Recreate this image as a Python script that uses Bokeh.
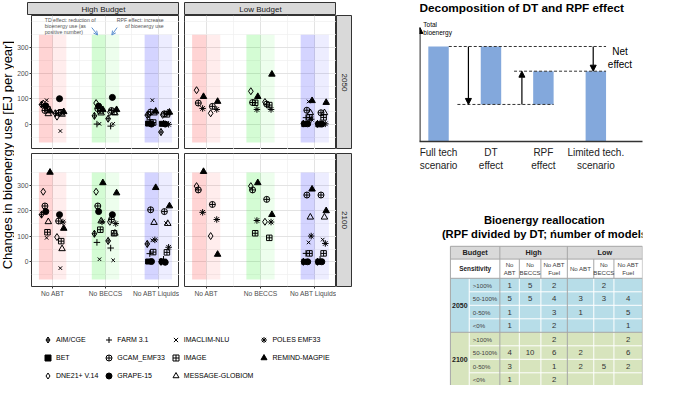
import math
from bokeh.plotting import figure
from bokeh.models import (Range1d, FixedTicker, Label, Arrow, NormalHead, OpenHead,
                          Legend, LegendItem, Spacer)
from bokeh.layouts import row, column
from bokeh.embed import file_html
from bokeh.resources import INLINE
from bokeh.core.properties import value

FONT = "Liberation Sans"

# ---------------- data ----------------
CATEGORIES = ["No ABT", "No BECCS", "No ABT Liquids"]
MODEL_CODES = ["AIM", "BET", "DNE", "FARM", "GCAM", "GRAPE", "IMAC", "IMAGE", "MESS", "POLES", "REMIND"]
MODEL_NAMES = ["AIM/CGE", "BET", "DNE21+ V.14", "FARM 3.1", "GCAM_EMF33", "GRAPE-15",
               "IMACLIM-NLU", "IMAGE", "MESSAGE-GLOBIOM", "POLES EMF33", "REMIND-MAGPIE"]

HIGH_2050_TD = {
    "No ABT": {"DNE": 82, "AIM": 78, "GRAPE": 73, "IMAC": 95, "GCAM": 55, "IMAGE": 60, "MESS": 42, "REMIND": 53},
    "No BECCS": {"DNE": 84, "GRAPE": 72, "GCAM": 62, "IMAGE": 55, "REMIND": 58, "AIM": 34, "MESS": 45, "IMAC": 3, "FARM": 2},
    "No ABT Liquids": {"IMAC": 95, "AIM": 37, "GCAM": 49, "REMIND": 52, "DNE": 40, "MESS": 45, "BET": 4, "GRAPE": 2, "IMAGE": 8, "FARM": 19},
}
HIGH_2050_RPF = {
    "No ABT": {"GRAPE": 101, "DNE": 31, "IMAC": -25, "GCAM": 45, "IMAGE": 48, "MESS": 40, "REMIND": 50, "AIM": 44},
    "No BECCS": {"GRAPE": 106, "GCAM": 55, "IMAGE": 50, "MESS": 45, "REMIND": 58, "DNE": 48, "AIM": 23, "IMAC": 3, "FARM": -6},
    "No ABT Liquids": {"GCAM": 42, "IMAGE": 40, "MESS": 45, "REMIND": 48, "DNE": 38, "BET": 3, "GRAPE": 2, "POLES": 1, "FARM": 5, "AIM": -29},
}
LOW_2050_TD = {
    "No ABT": {"DNE": 134, "REMIND": 109, "GCAM": 84, "POLES": 63},
    "No BECCS": {"DNE": 130, "REMIND": 109, "GCAM": 86, "IMAGE": 85, "POLES": 59},
    "No ABT Liquids": {"IMAC": 90, "REMIND": 93, "GCAM": 56, "MESS": 46, "IMAGE": 28, "POLES": 21, "FARM": 27, "GRAPE": 3, "BET": 2, "AIM": 4},
}
LOW_2050_RPF = {
    "No ABT": {"REMIND": 90, "GCAM": 71, "POLES": 59, "DNE": 44},
    "No BECCS": {"REMIND": 196, "DNE": 88, "GCAM": 80, "IMAGE": 76, "POLES": 59},
    "No ABT Liquids": {"REMIND": 86, "GCAM": 46, "MESS": 46, "IMAGE": 28, "POLES": 3, "GRAPE": 2, "BET": 1, "AIM": 3, "FARM": 6},
}
HIGH_2100_TD = {
    "No ABT": {"REMIND": 351, "DNE": 275, "GCAM": 219, "GRAPE": 197, "AIM": 185, "MESS": 157, "IMAGE": 116, "IMAC": 94},
    "No BECCS": {"REMIND": 310, "DNE": 275, "GCAM": 219, "GRAPE": 197, "MESS": 160, "POLES": 157, "IMAGE": 126, "AIM": 110, "FARM": 76, "IMAC": 10},
    "No ABT Liquids": {"REMIND": 291, "GCAM": 204, "MESS": 154, "POLES": 86, "IMAC": 84, "AIM": 70, "IMAGE": 38, "FARM": 32, "GRAPE": 1, "BET": 1},
}
HIGH_2100_RPF = {
    "No ABT": {"GRAPE": 185, "GCAM": 160, "POLES": 156, "REMIND": 131, "DNE": 97, "IMAGE": 81, "MESS": 51, "IMAC": -25},
    "No BECCS": {"REMIND": 270, "GRAPE": 185, "GCAM": 166, "DNE": 157, "POLES": 150, "IMAGE": 112, "MESS": 112, "AIM": 82, "FARM": 54, "IMAC": 6},
    "No ABT Liquids": {"REMIND": 219, "GCAM": 197, "MESS": 150, "IMAC": 152, "POLES": 57, "IMAGE": 37, "FARM": 10, "BET": 1, "GRAPE": -2, "AIM": 0},
}
LOW_2100_TD = {
    "No ABT": {"REMIND": 354, "DNE": 297, "GCAM": 282, "POLES": 194},
    "No BECCS": {"REMIND": 310, "DNE": 297, "GCAM": 282, "POLES": 162, "IMAGE": 112},
    "No ABT Liquids": {"REMIND": 285, "GCAM": 262, "MESS": 175, "POLES": 101, "IMAC": 76, "IMAGE": 33, "FARM": 33, "GRAPE": 0, "BET": 0, "AIM": 0},
}
LOW_2100_RPF = {
    "No ABT": {"GCAM": 225, "POLES": 166, "DNE": 101, "REMIND": 29},
    "No BECCS": {"GCAM": 245, "REMIND": 185, "DNE": 157, "POLES": 156, "IMAGE": 94},
    "No ABT Liquids": {"GCAM": 262, "REMIND": 200, "MESS": 175, "IMAC": 87, "POLES": 72, "IMAGE": 33, "FARM": 10, "GRAPE": 0, "BET": 0, "AIM": 0},
}
Y_TICKS = [0, 100, 200, 300]
BAND_BOTTOM, BAND_TOP = -70, 350

# decomposition diagram
DECOMP_LABELS = ["Full tech\nscenario", "DT\neffect", "RPF\neffect", "Limited tech.\nscenario"]
FULL_TECH = 100
DT_EFFECT = -61
RPF_EFFECT = 35

# table
TABLE_SENS = [">100%", "50-100%", "0-50%", "<0%"]
TABLE_SUBCOLS = ["No\nABT", "No\nBECCS", "No ABT\nFuel", "No ABT", "No\nBECCS", "No ABT\nFuel"]
TABLE_2050 = [[1, 5, 2, None, 2, None],
              [5, 5, 4, 3, 3, 4],
              [1, None, 3, 1, None, 5],
              [1, None, 2, None, None, 1]]
TABLE_2100 = [[None, None, 2, None, None, 2],
              [4, 10, 6, 2, None, 6],
              [3, None, 1, 2, 5, 2],
              [1, None, 2, None, None, None]]

# ---------------- styles ----------------
MARKER_STYLE = {
    "AIM": dict(marker="diamond_cross", fill_color=None, size=7),
    "BET": dict(marker="square", fill_color="black", size=5),
    "DNE": dict(marker="diamond", fill_color=None, size=7),
    "FARM": dict(marker="cross", fill_color=None, size=6.5),
    "GCAM": dict(marker="circle_cross", fill_color=None, size=6),
    "GRAPE": dict(marker="circle", fill_color="black", size=6),
    "IMAC": dict(marker="x", fill_color=None, size=5),
    "IMAGE": dict(marker="square_cross", fill_color=None, size=5.5),
    "MESS": dict(marker="triangle", fill_color=None, size=6.5),
    "POLES": dict(marker="asterisk", fill_color=None, size=6.5),
    "REMIND": dict(marker="triangle", fill_color="black", size=6.5),
}
BAND_COLORS = ["#ff0000", "#00ee00", "#0000ff"]
TD_SIDE, RPF_SIDE = -0.13, 0.13
GRID_MAJOR = "#e3e3e3"
GRID_MINOR = "#efefef"


def base_fig(width, height, **kw):
    return figure(width=width, height=height, output_backend="svg", toolbar_location=None, **kw)


def make_panel(td, rpf, width, height, left, top, bottom, show_x, show_y, note=False):
    p = base_fig(width, height, x_range=Range1d(0.6, 3.4), y_range=Range1d(-97, 425),
                 x_axis_location="below" if show_x else None,
                 y_axis_location="left" if show_y else None,
                 min_border_left=left, min_border_right=0, min_border_top=top, min_border_bottom=bottom)
    p.outline_line_color = "#333333"
    p.outline_line_width = 1
    p.background_fill_color = "white"
    p.xgrid.ticker = FixedTicker(ticks=[1, 2, 3], minor_ticks=[1.5, 2.5])
    p.ygrid.ticker = FixedTicker(ticks=Y_TICKS, minor_ticks=[-50, 50, 150, 250, 350, 400])
    for g in (p.xgrid, p.ygrid):
        g.grid_line_color = GRID_MAJOR
        g.grid_line_width = 1
        g.minor_grid_line_color = GRID_MINOR
        g.minor_grid_line_width = 0.7
    if show_x:
        ax = p.xaxis[0]
        ax.ticker = FixedTicker(ticks=[1, 2, 3])
        ax.major_label_overrides = {i + 1: c for i, c in enumerate(CATEGORIES)}
    if show_y:
        ax = p.yaxis[0]
        ax.ticker = FixedTicker(ticks=Y_TICKS)
    for ax in p.xaxis + p.yaxis:
        ax.axis_line_color = None
        ax.major_tick_out = 2
        ax.major_tick_in = 0
        ax.minor_tick_out = 0
        ax.minor_tick_in = 0
        ax.major_tick_line_color = "#333333"
        ax.major_label_text_font = FONT
        ax.major_label_text_font_size = "6.7px"
        ax.major_label_text_color = "#4d4d4d"
        ax.major_label_standoff = 1
    for ci, col in enumerate(CATEGORIES):
        c = ci + 1
        p.quad(left=[c - 0.26], right=[c], bottom=[BAND_BOTTOM], top=[BAND_TOP],
               fill_color=BAND_COLORS[ci], fill_alpha=0.17, line_color=None)
        p.quad(left=[c], right=[c + 0.26], bottom=[BAND_BOTTOM], top=[BAND_TOP],
               fill_color=BAND_COLORS[ci], fill_alpha=0.07, line_color=None)
    for mi, code in enumerate(MODEL_CODES):
        jit = (mi - 5) * 0.016
        xs, ys = [], []
        for ci, cat in enumerate(CATEGORIES):
            for eff, side in ((td, TD_SIDE), (rpf, RPF_SIDE)):
                v = eff[cat].get(code)
                if v is not None:
                    xs.append(ci + 1 + side + jit)
                    ys.append(v)
        if xs:
            st = MARKER_STYLE[code]
            p.scatter(xs, ys, marker=st["marker"], size=st["size"], fill_color=st["fill_color"],
                      line_color="black", line_width=1)
    if note:
        p.add_layout(Label(x=0.85, y=420, text="TD effect: reduction of\nbioenergy use (as\npositive number)",
                           text_font=FONT, text_font_size="5.2px", text_color="#555555",
                           text_align="left", text_baseline="top", text_line_height=1.0))
        p.add_layout(Label(x=3.1, y=420, text="RPF effect: increase\nof bioenergy use",
                           text_font=FONT, text_font_size="5.2px", text_color="#555555",
                           text_align="right", text_baseline="top", text_line_height=1.0))
        p.add_layout(Arrow(end=OpenHead(size=4, line_color="#5b8fd0", line_width=1),
                           x_start=1.74, y_start=378, x_end=1.85, y_end=349,
                           line_color="#5b8fd0", line_width=1))
        p.add_layout(Arrow(end=OpenHead(size=4, line_color="#5b8fd0", line_width=1),
                           x_start=2.22, y_start=378, x_end=2.12, y_end=349,
                           line_color="#5b8fd0", line_width=1))
    return p


def strip(text, width, height, angle=0.0, top=0, bottom=0):
    s = base_fig(width, height, x_range=Range1d(0, 1), y_range=Range1d(0, 1),
                 x_axis_location=None, y_axis_location=None, min_border=0,
                 min_border_left=0, min_border_right=0, min_border_top=top, min_border_bottom=bottom)
    s.grid.visible = False
    s.background_fill_color = "#d9d9d9"
    s.outline_line_color = "#333333"
    s.outline_line_width = 1
    s.add_layout(Label(x=0.5, y=0.5, text=text, angle=angle, text_align="center", text_baseline="middle",
                       text_font=FONT, text_font_size="8px", text_color="#1a1a1a"))
    return s


# ---------------- left block (layout width 352, height 385) ----------------
TL = make_panel(HIGH_2050_TD, HIGH_2050_RPF, 165, 134, 13, 0, 0, False, True, note=True)
TR = make_panel(LOW_2050_TD, LOW_2050_RPF, 157, 134, 5, 0, 0, False, False)
BL = make_panel(HIGH_2100_TD, HIGH_2100_RPF, 165, 151, 13, 4, 14, True, True)
BR = make_panel(LOW_2100_TD, LOW_2100_RPF, 157, 151, 5, 4, 14, True, False)
S2050 = strip("2050", 16, 134, angle=-math.pi / 2)
S2100 = strip("2100", 16, 151, angle=-math.pi / 2, top=4, bottom=14)
SHIGH = strip("High Budget", 152, 15, top=2)
SLOW = strip("Low Budget", 152, 15, top=2)

ylab = base_fig(14, 285, x_range=Range1d(0, 1), y_range=Range1d(0, 1),
                x_axis_location=None, y_axis_location=None, min_border=0)
ylab.grid.visible = False
ylab.outline_line_color = None
ylab.add_layout(Label(x=0.5, y=0.51, text="Changes in bioenergy use [EJ per year]", angle=math.pi / 2,
                      text_align="center", text_baseline="middle", text_font=FONT,
                      text_font_size="13px", text_color="black"))

legend_fig = base_fig(352, 85, x_range=Range1d(0, 1), y_range=Range1d(0, 1),
                      x_axis_location=None, y_axis_location=None, min_border=0)
legend_fig.grid.visible = False
legend_fig.outline_line_color = None
items = []
for code, name in zip(MODEL_CODES, MODEL_NAMES):
    st = MARKER_STYLE[code]
    r = legend_fig.scatter([-5], [-5], marker=st["marker"], size=st["size"], fill_color=st["fill_color"],
                           line_color="black", line_width=1)
    items.append(LegendItem(label=name, renderers=[r]))
leg = Legend(items=items, location=(40, 2), orientation="vertical", nrows=3,
             glyph_width=15, glyph_height=15, label_height=15, label_standoff=1, spacing=3,
             padding=0, margin=0, border_line_color=None, background_fill_alpha=0,
             label_text_font=FONT, label_text_font_size="7px", label_text_color="black")
legend_fig.add_layout(leg, "center")

strip_row = row(Spacer(width=27, height=15), SHIGH, Spacer(width=5, height=15), SLOW,
                Spacer(width=16, height=15), spacing=0)
panels = column(row(TL, TR, S2050, spacing=0), row(BL, BR, S2100, spacing=0), spacing=0)
left_block = column(strip_row, row(ylab, panels, spacing=0), legend_fig, spacing=0)

# ---------------- decomposition (right block, width 313) ----------------
after_dt = FULL_TECH + DT_EFFECT
limited = after_dt + RPF_EFFECT
bx = [1, 2, 3, 4]
dp = base_fig(313, 190, x_range=Range1d(0.637, 4.89), y_range=Range1d(0, 148.4),
              y_axis_location=None, min_border_left=63, min_border_right=27,
              min_border_top=0, min_border_bottom=49)
dp.grid.visible = False
dp.outline_line_color = None
dp.vbar(x=bx, bottom=[0, after_dt, after_dt, 0], top=[FULL_TECH, FULL_TECH, limited, limited],
        width=0.39, fill_color="#83a8dc", line_color=None)
ax = dp.xaxis[0]
ax.ticker = FixedTicker(ticks=bx)
ax.major_label_overrides = {x: l for x, l in zip(bx, DECOMP_LABELS)}
ax.major_tick_out = 0
ax.major_tick_in = 0
ax.minor_tick_out = 0
ax.minor_tick_in = 0
ax.axis_line_color = "#333333"
ax.axis_line_width = 1.3
ax.major_label_standoff = 5
ax.major_label_text_font = FONT
ax.major_label_text_font_size = "10px"
ax.major_label_text_color = "#222222"
dp.segment(x0=[1.195, 1.36, 2.44], y0=[FULL_TECH, after_dt, limited],
           x1=[4.195, 3.195, 4.195], y1=[FULL_TECH, after_dt, limited],
           line_dash="3 2", line_color="#333333", line_width=1)
head = dict(size=6, fill_color="black", line_color="black")
dp.add_layout(Arrow(end=NormalHead(**head), x_start=0.645, y_start=0, x_end=0.645, y_end=120,
                    line_color="black", line_width=1.2))
dp.add_layout(Arrow(end=NormalHead(**head), x_start=1.57, y_start=FULL_TECH, x_end=1.57, y_end=after_dt,
                    line_color="black", line_width=1.2))
dp.add_layout(Arrow(end=NormalHead(**head), x_start=2.59, y_start=after_dt, x_end=2.59, y_end=limited,
                    line_color="black", line_width=1.2))
dp.add_layout(Arrow(end=NormalHead(**head), x_start=3.95, y_start=FULL_TECH, x_end=3.95, y_end=limited,
                    line_color="black", line_width=1.2))
dp.add_layout(Label(x=0.637, y=140, text="Decomposition of DT and RPF effect", text_font=FONT,
                    text_font_size="11.8px", text_font_style="bold", text_align="left",
                    text_baseline="middle", text_color="black"))
dp.add_layout(Label(x=0.71, y=127, text="Total\nbioenergy", text_font=FONT, text_font_size="6.5px",
                    text_align="left", text_baseline="top", text_color="black", text_line_height=1.2))
dp.add_layout(Label(x=4.46, y=88, text="Net\neffect", text_font=FONT, text_font_size="10px",
                    text_align="center", text_baseline="middle", text_color="black", text_line_height=1.25))

# ---------------- table ----------------
COL_W = [26.4, 43, 27.3, 30.3, 37.1, 37.1, 28.3, 40]
ROW_H = [12.8, 19.2] + [13.5] * 8
TX0, TY0 = 43.4, 55.8
col_edges = [TX0]
for w in COL_W:
    col_edges.append(col_edges[-1] + w)
row_edges = [TY0]
for h in ROW_H:
    row_edges.append(row_edges[-1] + h)
tp = base_fig(313, 195, x_range=Range1d(0, 313), y_range=Range1d(195, 0),
              x_axis_location=None, y_axis_location=None, min_border=0)
tp.grid.visible = False
tp.outline_line_color = None
L, R = col_edges[0], col_edges[-1]
tp.quad(left=[L], right=[R], top=[row_edges[0]], bottom=[row_edges[1]], fill_color="#d9d9d9", line_color=None)
tp.quad(left=[L], right=[R], top=[row_edges[2]], bottom=[row_edges[6]], fill_color="#b7dde8", line_color=None)
tp.quad(left=[L], right=[R], top=[row_edges[6]], bottom=[row_edges[10]], fill_color="#d7e4bd", line_color=None)
wx0, wx1, wy0, wy1 = [], [], [], []
for i in range(3, 10):
    if i == 6:
        continue
    wx0.append(col_edges[1]); wx1.append(R); wy0.append(row_edges[i]); wy1.append(row_edges[i])
tp.segment(x0=wx0, y0=wy0, x1=wx1, y1=wy1, line_color="white", line_width=1)
vx, vy0, vy1 = [], [], []
for j in (1, 3, 4, 6, 7):
    vx.append(col_edges[j]); vy0.append(row_edges[2]); vy1.append(row_edges[10])
tp.segment(x0=vx, y0=vy0, x1=vx, y1=vy1, line_color="white", line_width=1)
gx0, gx1, gy0, gy1 = [], [], [], []
for i in (0, 1, 2, 6):
    gx0.append(L); gx1.append(R); gy0.append(row_edges[i]); gy1.append(row_edges[i])
for j in (0, 2, 5, 8):
    gx0.append(col_edges[j]); gx1.append(col_edges[j]); gy0.append(row_edges[0]); gy1.append(row_edges[10])
for j in (3, 4, 6, 7):
    gx0.append(col_edges[j]); gx1.append(col_edges[j]); gy0.append(row_edges[1]); gy1.append(row_edges[2])
tp.segment(x0=gx0, y0=gy0, x1=gx1, y1=gy1, line_color="#a6a6a6", line_width=1)


def cell_text(xs, ys, texts, size, bold=False, align="center", color="#333333"):
    tp.text(x=xs, y=ys, text=texts, text_font=value(FONT), text_font_size=size,
            text_font_style="bold" if bold else "normal", text_align=align,
            text_baseline="middle", text_color=color, text_line_height=1.15)


def cx(a, b):
    return (col_edges[a] + col_edges[b]) / 2


def cy(a, b):
    return (row_edges[a] + row_edges[b]) / 2


cell_text([cx(0, 2), cx(2, 5), cx(5, 8)], [cy(0, 1)] * 3, ["Budget", "High", "Low"], "7.3px", True, color="#222222")
cell_text([cx(0, 2)], [cy(1, 2)], ["Sensitivity"], "6.4px", True, color="#222222")
cell_text([cx(j, j + 1) for j in range(2, 8)], [cy(1, 2)] * 6, TABLE_SUBCOLS, "6.1px", color="#404040")
cell_text([cx(0, 1), cx(0, 1)], [cy(2, 6), cy(6, 10)], ["2050", "2100"], "7px", True, color="#222222")
sx, sy, st_ = [], [], []
vxs, vys, vts = [], [], []
for block, table in ((2, TABLE_2050), (6, TABLE_2100)):
    for r, (lab, vals) in enumerate(zip(TABLE_SENS, table)):
        sx.append(col_edges[1] + 5); sy.append(cy(block + r, block + r + 1)); st_.append(lab)
        for k, v in enumerate(vals):
            if v is not None:
                vxs.append(cx(k + 2, k + 3)); vys.append(cy(block + r, block + r + 1)); vts.append(str(v))
cell_text(sx, sy, st_, "6.1px", align="left", color="#404040")
cell_text(vxs, vys, vts, "7.8px", color="#333333")
tp.add_layout(Label(x=175, y=29, text="Bioenergy reallocation", text_font=FONT, text_font_size="11.2px",
                    text_font_style="bold", text_align="center", text_baseline="middle", text_color="black"))
tp.add_layout(Label(x=178, y=43.5, text="(RPF divided by DT; ńumber of models)", text_font=FONT,
                    text_font_size="11.2px", text_font_style="bold", text_align="center",
                    text_baseline="middle", text_color="black"))

right_block = column(dp, tp, spacing=0)
layout = row(left_block, Spacer(width=4, height=385), right_block, spacing=0)

open("out.html", "w").write(file_html(layout, INLINE))
